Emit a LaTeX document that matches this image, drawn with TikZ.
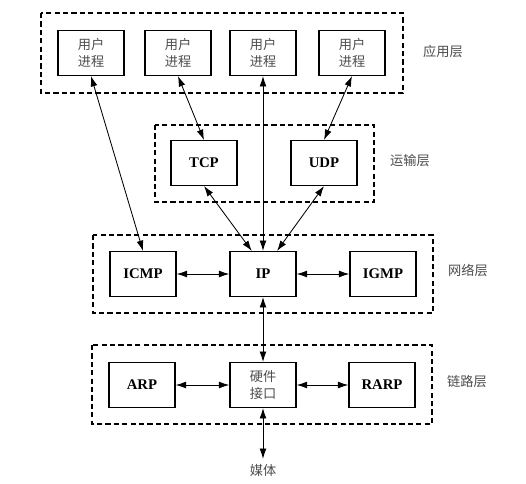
\documentclass[tikz,border=0pt]{standalone}
\usepackage{fontspec}
\setmainfont{Liberation Serif}
\newfontfamily\cjk{Noto Sans CJK SC}
\usetikzlibrary{arrows.meta}

\begin{document}
\begin{tikzpicture}[x=0.25mm, y=-0.25mm,
		proc/.style={draw, line width=0.9pt, minimum width=16.5mm, minimum height=11.2mm, inner sep=0pt, align=center, font=\fontsize{10.5}{11}\selectfont\bfseries},
		cn/.style={font=\cjk\fontsize{9.4}{11.5}\selectfont, text=black!70},
		layer/.style={dash pattern=on 1.3mm off 0.8mm, line width=0.8pt},
		link/.style={{Latex[length=2.6mm,width=1.7mm]}-{Latex[length=2.6mm,width=1.7mm]}, line width=0.6pt}]
		%%%%% START %%%%%
		\useasboundingbox (0, 0) rectangle (526, 483);
		
		\draw[layer] (41, 13) rectangle (403, 93);
		\draw[layer] (155, 125) rectangle (374, 202);
		\draw[layer] (93, 235) rectangle (433, 313);
		\draw[layer] (92, 345) rectangle (432, 424);
		
		\node[proc, cn] (user1) at (91, 53) {用户\\进程};
		\node[proc, cn] (user2) at (178, 53) {用户\\进程};
		\node[proc, cn] (user3) at (263, 53) {用户\\进程};
		\node[proc, cn] (user4) at (352, 53) {用户\\进程};
		\node[cn] (app) at (443, 51) {应用层};
		
		\node[proc] (tcp) at (204, 163) {TCP};
		\node[proc] (udp) at (324, 163) {UDP};
		\node[cn] (trans) at (410, 161) {运输层};
		
		\node[proc] (icmp) at (143, 274) {ICMP};
		\node[proc] (ip) at (263, 274) {IP};
		\node[proc] (igmp) at (383, 274) {IGMP};
		\node[cn] (net) at (468, 270) {网络层};
		
		\node[proc] (arp) at (142, 385) {ARP};
		\node[proc, cn] (hw) at (263, 385) {硬件\\接口};
		\node[proc] (rarp) at (382, 385) {RARP};
		\node[cn] (linkl) at (467, 382) {链路层};
		
		\node[cn] (media) at (263, 470) {媒体};
		
		\draw[link] (user1.south) -- (icmp.north);
		\draw[link] (user2.south) -- (tcp.north);
		\draw[link] (user3.south) -- (ip.north);
		\draw[link] (user4.south) -- (udp.north);
		\draw[link] (tcp.south) -- ([xshift=-2.8mm]ip.north);
		\draw[link] (udp.south) -- ([xshift=3.5mm]ip.north);
		\draw[link] (icmp.east) -- (ip.west);
		\draw[link] (ip.east) -- (igmp.west);
		\draw[link] (ip.south) -- (hw.north);
		\draw[link] (arp.east) -- (hw.west);
		\draw[link] (hw.east) -- (rarp.west);
		\draw[link] (hw.south) -- (media.north);
		%%%%% END %%%%%
	\end{tikzpicture}
\end{document}
